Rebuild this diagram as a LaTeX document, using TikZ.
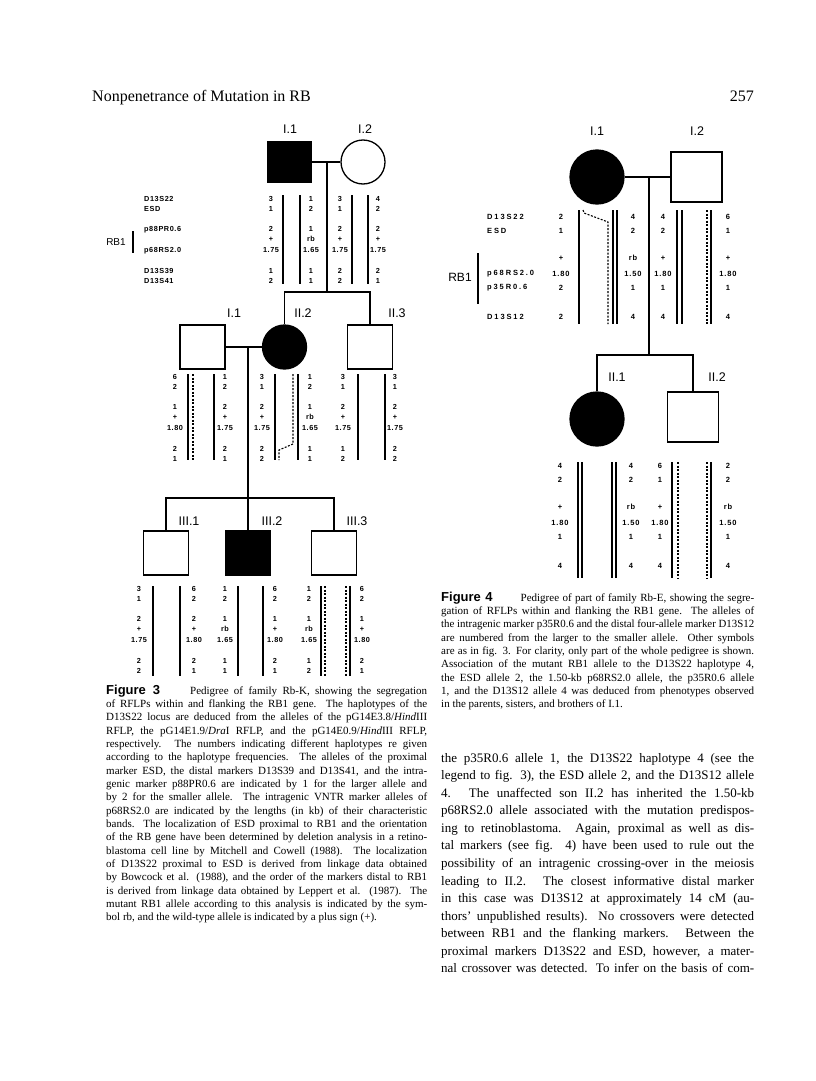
\documentclass[tikz,border=0pt]{standalone}
\usepackage{fontspec}
\usepackage{graphicx}
\setmainfont{Liberation Serif}
\setsansfont{Liberation Sans}
\newfontfamily\pedfont[LetterSpace=8]{Liberation Sans}
\newfontfamily\pedfontw[LetterSpace=25]{Liberation Sans}
\newfontfamily\pednumw[LetterSpace=12]{Liberation Sans}
\usetikzlibrary{calc}
\tikzset{
  male/.style={draw,rectangle,line width=1.3pt,minimum width=45pt,minimum height=44pt,inner sep=0pt},
  female/.style={draw,circle,line width=1.3pt,minimum size=44pt,inner sep=0pt},
  aff/.style={fill=black},
  link/.style={line width=1.2pt},
  hap/.style={line width=1.5pt},
  haploss/.style={line width=1.1pt,dash pattern=on 2pt off 1.5pt},
  gen/.style={font=\fontsize{12.5}{12.5}\sffamily,inner sep=0pt},
  allele/.style={font=\fontsize{7.3}{7.3}\pedfont\bfseries,inner sep=0pt},
  alleleE/.style={font=\fontsize{7.5}{7.5}\pednumw\bfseries,inner sep=0pt},
  locus/.style={font=\fontsize{7.3}{7.3}\pedfont\bfseries,anchor=west,inner sep=0pt},
  locusE/.style={font=\fontsize{7.5}{7.5}\pedfontw\bfseries,anchor=west,inner sep=0pt},
  capline/.style={anchor=base west,inner sep=0pt,font=\fontsize{11}{11}\selectfont},
  txtline/.style={anchor=base west,inner sep=0pt,font=\fontsize{13}{13}\selectfont}
}

\newsavebox\lnbox
\newcommand{\jline}[2]{\sbox\lnbox{#2}%
  \ifdim\wd\lnbox>#1\relax\resizebox{#1}{\height}{\usebox\lnbox}%
  \else\makebox[#1][s]{#2}\fi}
\newcommand{\figlab}[1]{{\sffamily\bfseries\fontsize{13}{13}\selectfont #1}}

% alleles of one haplotype, family Rb-K (7 loci) and Rb-E (6 loci)
\newcommand{\hapK}[4]{%
  \foreach \al [count=\ri from 0] in {#4}{
    \pgfmathsetmacro{\dy}{{0,10,30,40,51,72,82}[\ri]}
    \node[allele] (#1-\ri) at (#2,#3+\dy) {\al};
  }}
\newcommand{\hapE}[4]{%
  \foreach \al [count=\ri from 0] in {#4}{
    \pgfmathsetmacro{\dy}{{0,14,41,57,71,100}[\ri]}
    \node[alleleE] (#1-\ri) at (#2,#3+\dy) {\al};
  }}

\begin{document}
\begin{tikzpicture}[x=1pt,y=-1pt]
  \useasboundingbox (0,0) rectangle (816,1081);
  % Running head
  \node[anchor=base west,inner sep=0pt,font=\fontsize{16}{16}\selectfont] (runhead) at (92,101) {Nonpenetrance of Mutation in RB};
  \node[anchor=base east,inner sep=0pt,font=\fontsize{16}{16}\selectfont] (folio) at (754,101) {257};

  % ---------------- Figure 3: family Rb-K ----------------
  % Generation I
  \node[male,aff,minimum width=43pt,minimum height=41pt] (k11) at (289.5,162) {};
  \node[female] (k12) at (363,162) {};
  \node[gen] (k11l) at (290,129) {I.1};
  \node[gen] (k12l) at (365,129) {I.2};
  \draw[link] (k11.east) -- (k12.west);

  % Loci
  \node[locus] (kl1) at (144,199) {D13S22};
  \node[locus] (kl2) at (144,209) {ESD};
  \node[locus] (kl3) at (144,230) {p88PR0.6};
  \node[locus] (kl4) at (144,251) {p68RS2.0};
  \node[locus] (kl5) at (144,271) {D13S39};
  \node[locus] (kl6) at (144,281) {D13S41};
  \node[font=\fontsize{10}{10}\sffamily,inner sep=0pt] (krb) at (116,242) {RB1};
  \draw[hap] (133,231) -- (133,253);

  \hapK{k11a}{271}{199}{3,1,2,+,1.75,1,2}
  \hapK{k11b}{311}{199}{1,2,1,rb,1.65,1,1}
  \hapK{k12a}{340}{199}{3,1,2,+,1.75,2,2}
  \hapK{k12b}{378}{199}{4,2,2,+,1.75,2,1}
  \foreach \x in {283,300,352,368} \draw[hap] (\x,195) -- (\x,284);

  % Generation II
  \node[male] (k21) at (202.5,347) {};
  \node[female,aff] (k22) at (284.5,347) {};
  \node[male] (k23) at (370,347) {};
  \node[gen] (k21l) at (234,313) {I.1};
  \node[gen] (k22l) at (303,313) {II.2};
  \node[gen] (k23l) at (397,313) {II.3};
  \coordinate (k1m) at (327,162);
  \coordinate (k2bar) at (327,292);
  \draw[link] (k1m) -- (k2bar);
  \draw[link] (k22.north) -- (k22.north |- k2bar) -- (k23.north |- k2bar) -- (k23.north);
  \draw[link] (k21.east) -- (k22.west);

  \hapK{k21a}{175}{377}{6,2,1,+,1.80,2,1}
  \hapK{k21b}{225}{377}{1,2,2,+,1.75,2,1}
  \hapK{k22a}{262}{377}{3,1,2,+,1.75,2,2}
  \hapK{k22b}{310}{377}{1,2,1,rb,1.65,1,1}
  \hapK{k23a}{343}{377}{3,1,2,+,1.75,1,2}
  \hapK{k23b}{395}{377}{3,1,2,+,1.75,2,2}
  \foreach \x in {188,214,275,298,358,385} \draw[hap] (\x,374) -- (\x,460);
  \draw[haploss] (193,374) -- (193,460);
  \draw[haploss] (293,374) -- (293,444) -- (279,450) -- (279,460);

  % Generation III
  \node[male] (k31) at (166,553) {};
  \node[male,aff] (k32) at (248,553) {};
  \node[male] (k33) at (334,553) {};
  \node[gen] (k31l) at (189,521) {III.1};
  \node[gen] (k32l) at (272,521) {III.2};
  \node[gen] (k33l) at (357,521) {III.3};
  \coordinate (k2m) at (248,347);
  \coordinate (k3bar) at (248,498);
  \draw[link] (k2m) -- (k3bar) -- (k32.north);
  \draw[link] (k31.north) -- (k31.north |- k3bar) -- (k33.north |- k3bar) -- (k33.north);

  \hapK{k31a}{139}{589}{3,1,2,+,1.75,2,2}
  \hapK{k31b}{194}{589}{6,2,2,+,1.80,2,1}
  \hapK{k32a}{225}{589}{1,2,1,rb,1.65,1,1}
  \hapK{k32b}{275}{589}{6,2,1,+,1.80,2,1}
  \hapK{k33a}{309}{589}{1,2,1,rb,1.65,1,2}
  \hapK{k33b}{362}{589}{6,2,1,+,1.80,2,1}
  \foreach \x in {153,180,238,263,321,350} \draw[hap] (\x,586) -- (\x,676);
  \foreach \x in {325,346} \draw[haploss] (\x,586) -- (\x,676);

  % Legend of figure 3
  \foreach \cl [count=\i from 0] in {
    {\figlab{Figure 3}\hspace{30pt}Pedigree of family Rb-K, showing the segregation},
    {of RFLPs within and flanking the RB1 gene. The haplotypes of the},
    {D13S22 locus are deduced from the alleles of the pG14E3.8/\textit{Hind}III},
    {RFLP, the pG14E1.9/\textit{Dra}I RFLP, and the pG14E0.9/\textit{Hind}III RFLP,},
    {respectively. The numbers indicating different haplotypes re given},
    {according to the haplotype frequencies. The alleles of the proximal},
    {marker ESD, the distal markers D13S39 and D13S41, and the intra-},
    {genic marker p88PR0.6 are indicated by 1 for the larger allele and},
    {by 2 for the smaller allele. The intragenic VNTR marker alleles of},
    {p68RS2.0 are indicated by the lengths (in kb) of their characteristic},
    {bands. The localization of ESD proximal to RB1 and the orientation},
    {of the RB gene have been determined by deletion analysis in a retino-},
    {blastoma cell line by Mitchell and Cowell (1988). The localization},
    {of D13S22 proximal to ESD is derived from linkage data obtained},
    {by Bowcock et al. (1988), and the order of the markers distal to RB1},
    {is derived from linkage data obtained by Leppert et al. (1987). The},
    {mutant RB1 allele according to this analysis is indicated by the sym-}}
    \node[capline] (capK\i) at (106,694+13.35*\i) {\jline{321pt}{\cl}};
  \node[capline] (capK17) at (106,694+13.35*17) {bol rb, and the wild-type allele is indicated by a plus sign (+).};

  % ---------------- Figure 4: family Rb-E ----------------
  % Generation I
  \node[female,aff,minimum size=54pt] (e11) at (597,177) {};
  \node[male,minimum width=51pt,minimum height=50pt] (e12) at (696.5,177) {};
  \node[gen] (e11l) at (597,131) {I.1};
  \node[gen] (e12l) at (697,131) {I.2};
  \draw[link] (e11.east) -- (e12.west);

  % Loci
  \node[locusE] (el1) at (487,217) {D13S22};
  \node[locusE] (el2) at (487,231) {ESD};
  \node[locusE] (el3) at (487,274) {p68RS2.0};
  \node[locusE] (el4) at (487,288) {p35R0.6};
  \node[locusE] (el5) at (487,317) {D13S12};
  \node[font=\fontsize{12}{12}\sffamily,inner sep=0pt] (erb) at (460,277) {RB1};
  \draw[hap] (478,253) -- (478,304);

  \hapE{e11a}{561}{217}{2,1,+,1.80,2,2}
  \hapE{e11b}{633}{217}{4,2,rb,1.50,1,4}
  \hapE{e12a}{663}{217}{4,2,+,1.80,1,4}
  \hapE{e12b}{728}{217}{6,1,+,1.80,1,4}
  \foreach \x in {579,613,617,677,682,711} \draw[hap] (\x,210) -- (\x,324);
  \draw[haploss] (707,210) -- (707,324);
  \draw[haploss] (583,210) -- (584,213) -- (608,222) -- (608,324);

  % Generation II
  \node[female,aff,minimum size=54pt] (e21) at (597,419) {};
  \node[male,minimum width=51pt,minimum height=50pt] (e22) at (693,417) {};
  \node[gen] (e21l) at (617,377) {II.1};
  \node[gen] (e22l) at (717,377) {II.2};
  \coordinate (e1m) at (649,177);
  \coordinate (e2bar) at (649,355);
  \draw[link] (e1m) -- (e2bar);
  \draw[link] (e21.north) -- (e21.north |- e2bar) -- (e22.north |- e2bar) -- (e22.north);

  \hapE{e21a}{560}{466}{4,2,+,1.80,1,4}
  \hapE{e21b}{631}{466}{4,2,rb,1.50,1,4}
  \hapE{e22a}{660}{466}{6,1,+,1.80,1,4}
  \hapE{e22b}{728}{466}{2,2,rb,1.50,1,4}
  \foreach \x in {578,582,612,616,672,711} \draw[hap] (\x,462) -- (\x,578);
  \foreach \x in {678,707} \draw[haploss] (\x,462) -- (\x,578);

  % Legend of figure 4
  \foreach \cl [count=\i from 0] in {
    {\figlab{Figure 4}\hspace{28pt}Pedigree of part of family Rb-E, showing the segre-},
    {gation of RFLPs within and flanking the RB1 gene. The alleles of},
    {the intragenic marker p35R0.6 and the distal four-allele marker D13S12},
    {are numbered from the larger to the smaller allele. Other symbols},
    {are as in fig. 3. For clarity, only part of the whole pedigree is shown.},
    {Association of the mutant RB1 allele to the D13S22 haplotype 4,},
    {the ESD allele 2, the 1.50-kb p68RS2.0 allele, the p35R0.6 allele},
    {1, and the D13S12 allele 4 was deduced from phenotypes observed}}
    \node[capline] (capE\i) at (441,601+13.35*\i) {\jline{313pt}{\cl}};
  \node[capline] (capE8) at (441,601+13.35*8) {in the parents, sisters, and brothers of I.1.};

  % Running text
  \foreach \cl [count=\i from 0] in {
    {the p35R0.6 allele 1, the D13S22 haplotype 4 (see the},
    {legend to fig. 3), the ESD allele 2, and the D13S12 allele},
    {4. The unaffected son II.2 has inherited the 1.50-kb},
    {p68RS2.0 allele associated with the mutation predispos-},
    {ing to retinoblastoma. Again, proximal as well as dis-},
    {tal markers (see fig. 4) have been used to rule out the},
    {possibility of an intragenic crossing-over in the meiosis},
    {leading to II.2. The closest informative distal marker},
    {in this case was D13S12 at approximately 14 cM (au-},
    {thors' unpublished results). No crossovers were detected},
    {between RB1 and the flanking markers. Between the},
    {proximal markers D13S22 and ESD, however, a mater-},
    {nal crossover was detected. To infer on the basis of com-}}
    \node[txtline] (body\i) at (441,762+17.58*\i) {\jline{313pt}{\cl}};
\end{tikzpicture}
\end{document}
